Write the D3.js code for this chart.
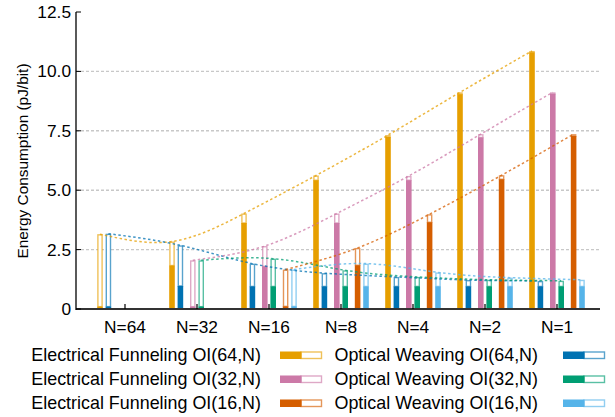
<!DOCTYPE html>
<html><head><meta charset="utf-8">
<script src="https://cdn.jsdelivr.net/npm/d3@7"></script>
<style>
html,body{margin:0;padding:0;background:#fff;}
svg{display:block;font-family:"Liberation Sans",Arial,sans-serif;}
</style></head>
<body><svg id="c" width="615" height="417"></svg>
<script>
// ---- data ----
const categories = ["N=64","N=32","N=16","N=8","N=4","N=2","N=1"];
const yTicks = [0, 2.5, 5.0, 7.5, 10.0, 12.5];
const yTickLabels = ["0","2.5","5.0","7.5","10.0","12.5"];
const seriesNames = ["Electrical Funneling OI(64,N)","Optical Weaving OI(64,N)","Electrical Funneling OI(32,N)","Optical Weaving OI(32,N)","Electrical Funneling OI(16,N)","Optical Weaving OI(16,N)"];
const seriesColors = ["#E69F00","#0072B2","#CC79A7","#009E73","#D55E00","#56B4E9"];
const seriesCluster = ["64","64","32","32","16","16"];
const seriesKind = ["EF","OW","EF","OW","EF","OW"];
// totals (bar top) and solid (lower, filled) part
const ef64Total = [3.15, 2.84, 4.02, 5.62, 7.32, 9.12, 10.86];
const ef64Solid = [0.10, 1.83, 3.62, 5.42, 7.24, 9.04, 10.80];
const ow64Total = [3.17, 2.68, 1.91, 1.51, 1.35, 1.22, 1.18];
const ow64Solid = [0.10, 0.97, 0.95, 0.95, 0.95, 0.95, 0.95];
const ef32Total = [null, 2.05, 2.65, 4.02, 5.60, 7.36, 9.12];
const ef32Solid = [null, 0.10, 1.80, 3.62, 5.42, 7.22, 9.06];
const ow32Total = [null, 2.05, 2.12, 1.63, 1.35, 1.23, 1.19];
const ow32Solid = [null, 0.10, 0.95, 0.95, 0.95, 0.95, 0.95];
const ef16Total = [null, null, 1.66, 2.57, 3.99, 5.63, 7.36];
const ef16Solid = [null, null, 0.11, 1.84, 3.65, 5.46, 7.28];
const ow16Total = [null, null, 1.66, 1.91, 1.54, 1.32, 1.23];
const ow16Solid = [null, null, 0.11, 0.95, 0.95, 0.95, 0.95];

const totals = [ef64Total, ow64Total, ef32Total, ow32Total, ef16Total, ow16Total];
const solids = [ef64Solid, ow64Solid, ef32Solid, ow32Solid, ef16Solid, ow16Solid];

// ---- layout ----
const svg = d3.select("#c");
const plotLeft = 76, plotRight = 600, plotTop = 12, plotBottom = 309;
const x = d3.scaleLinear().domain([0, categories.length - 1]).range([125, 557]);
const y = d3.scaleLinear().domain([0, 12.5]).range([plotBottom, plotTop]);
const clusterOff = d3.scalePoint().domain(["64","32","16"]).range([-20.8, 20.8]);
const pairOff = d3.scalePoint().domain(["EF","OW"]).range([-4.2, 4.2]);
const barW = 5.6;
const barX = (s, i) => x(i) + clusterOff(seriesCluster[s]) + pairOff(seriesKind[s]);

// grid
const gridVals = yTicks.filter(v => v > 0 && v < 12.5);
svg.append("g").selectAll("line").data(gridVals).join("line")
  .attr("x1", plotLeft).attr("x2", plotRight)
  .attr("y1", d => y(d)).attr("y2", d => y(d))
  .attr("stroke", "#c8c8c8").attr("stroke-width", 1.4).attr("stroke-dasharray", "3,2");

// bars
const barsG = svg.append("g");
totals.forEach((tot, s) => {
  tot.forEach((t, i) => {
    if (t == null) return;
    const sv = solids[s][i];
    const cx = barX(s, i);
    barsG.append("rect")
      .attr("x", cx - barW/2 + 0.7).attr("width", barW - 1.4)
      .attr("y", y(t) + 0.7).attr("height", Math.max(0, y(sv) - y(t) - 0.7))
      .attr("fill", "#fff").attr("stroke", seriesColors[s])
      .attr("stroke-opacity", 0.65).attr("stroke-width", 1.4);
    barsG.append("rect")
      .attr("x", cx - barW/2).attr("width", barW)
      .attr("y", y(sv)).attr("height", y(0) - y(sv))
      .attr("fill", seriesColors[s]);
  });
});

// dotted trend curves
const line = d3.line().curve(d3.curveNatural).x(d => d[0]).y(d => d[1]);
totals.forEach((tot, s) => {
  const pts = [];
  tot.forEach((t, i) => { if (t != null) pts.push([barX(s, i), y(t)]); });
  svg.append("path").attr("d", line(pts))
    .attr("fill", "none").attr("stroke", seriesColors[s])
    .attr("stroke-opacity", 0.75).attr("stroke-width", 1.5)
    .attr("stroke-dasharray", "2.5,2.5");
});

// axes
svg.append("line").attr("x1", plotLeft).attr("x2", plotRight)
  .attr("y1", plotBottom).attr("y2", plotBottom)
  .attr("stroke", "#333").attr("stroke-width", 2);
svg.append("line").attr("x1", plotLeft).attr("x2", plotLeft)
  .attr("y1", plotTop).attr("y2", plotBottom + 1)
  .attr("stroke", "#000").attr("stroke-width", 1.3);

// y ticks & labels
const yt = svg.append("g");
yTicks.forEach((v, k) => {
  yt.append("line").attr("x1", plotLeft).attr("x2", plotLeft + 5)
    .attr("y1", y(v)).attr("y2", y(v)).attr("stroke", "#000").attr("stroke-width", 1);
  yt.append("text").attr("x", plotLeft - 5).attr("y", y(v))
    .attr("text-anchor", "end").attr("dominant-baseline", "central")
    .attr("font-size", 17.3).attr("fill", "#000").text(yTickLabels[k]);
});

// x ticks & labels
const xt = svg.append("g");
categories.forEach((c, i) => {
  xt.append("line").attr("x1", x(i)).attr("x2", x(i))
    .attr("y1", plotBottom).attr("y2", plotBottom - 5)
    .attr("stroke", "#000").attr("stroke-width", 1.2);
  xt.append("text").attr("x", x(i)).attr("y", 327)
    .attr("text-anchor", "middle").attr("dominant-baseline", "central")
    .attr("font-size", 17.3).attr("fill", "#000").text(c);
});

// y title
svg.append("text").attr("transform", "translate(22,161) rotate(-90)")
  .attr("text-anchor", "middle").attr("dominant-baseline", "central")
  .attr("font-size", 15.4).attr("fill", "#000").text("Energy Consumption (pJ/bit)");

// legend
const legRowsY = [355, 379, 403];
const legCols = [{textX: 261, sx: 280}, {textX: 538, sx: 563}];
const legG = svg.append("g");
seriesNames.forEach((name, s) => {
  const col = legCols[s % 2];
  const ry = legRowsY[Math.floor(s / 2)];
  legG.append("text").attr("x", col.textX).attr("y", ry)
    .attr("text-anchor", "end").attr("dominant-baseline", "central")
    .attr("font-size", 17.9).attr("fill", "#000").text(name);
  legG.append("rect").attr("x", col.sx + 21).attr("y", ry - 3)
    .attr("width", 20.5).attr("height", 6.5)
    .attr("fill", "#fff").attr("stroke", seriesColors[s]).attr("stroke-opacity", 0.65).attr("stroke-width", 1.4);
  legG.append("rect").attr("x", col.sx).attr("y", ry - 3.5)
    .attr("width", 21.5).attr("height", 7.5).attr("fill", seriesColors[s]);
});
</script></body></html>
